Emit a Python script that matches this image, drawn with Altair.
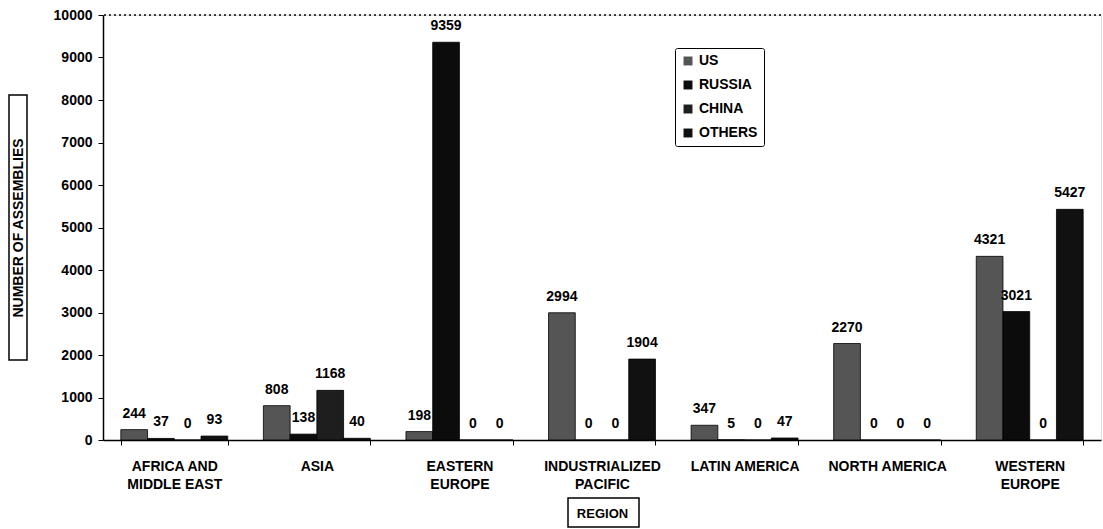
import altair as alt
import pandas as pd

# Regions ("|" marks a line break in the axis label)
regions = [
    "AFRICA AND|MIDDLE EAST",
    "ASIA",
    "EASTERN|EUROPE",
    "INDUSTRIALIZED|PACIFIC",
    "LATIN AMERICA",
    "NORTH AMERICA",
    "WESTERN|EUROPE",
]
series = ["US", "RUSSIA", "CHINA", "OTHERS"]

us = [244, 808, 198, 2994, 347, 2270, 4321]
russia = [37, 138, 9359, 0, 5, 0, 3021]
china = [0, 1168, 0, 0, 0, 0, 0]
others = [93, 40, 0, 1904, 47, 0, 5427]

y_ticks = list(range(0, 10001, 1000))
colors = ["#555555", "#0c0c0c", "#1e1e1e", "#111111"]

FONT = "Liberation Sans Narrow, Liberation Sans, Arial"

rows = []
for name, vals in zip(series, [us, russia, china, others]):
    for reg, v in zip(regions, vals):
        rows.append({"region": reg, "series": name, "value": v})
df = pd.DataFrame(rows)

W, H = 998, 425

x_enc = alt.X(
    "region:N",
    sort=regions,
    scale=alt.Scale(paddingInner=0.25, paddingOuter=0.125),
    axis=alt.Axis(
        title="REGION",
        titleFont=FONT,
        titleFontSize=13,
        titleFontWeight="bold",
        titleX=W / 2,
        titleY=73,
        titleBaseline="middle",
        labelExpr="split(datum.label, '|')",
        labelAngle=0,
        labelFont=FONT,
        labelFontSize=14,
        labelFontWeight="bold",
        labelColor="black",
        labelPadding=14,
        labelLineHeight=18,
        tickBand="extent",
        tickSize=5,
        tickColor="black",
        domainColor="black",
        domainWidth=1.5,
    ),
)
xoff = alt.XOffset("series:N", sort=series)

y_enc = alt.Y(
    "value:Q",
    scale=alt.Scale(domain=[0, 10000], nice=False),
    axis=alt.Axis(
        values=y_ticks,
        format="d",
        title="NUMBER OF ASSEMBLIES",
        titleFont=FONT,
        titleFontSize=14,
        titleFontWeight="bold",
        titleX=-85,
        titleY=H / 2,
        titleAngle=270,
        titleAlign="center",
        titleBaseline="middle",
        labelFont=FONT,
        labelFontSize=14,
        labelFontWeight="bold",
        labelColor="black",
        labelPadding=6,
        tickSize=5,
        tickColor="black",
        domainColor="black",
        domainWidth=1.5,
        grid=False,
    ),
)

base = alt.Chart(df)

bars = base.mark_bar(stroke="black", strokeWidth=0.8).encode(
    x=x_enc,
    xOffset=xoff,
    y=y_enc,
    color=alt.Color(
        "series:N",
        sort=series,
        scale=alt.Scale(domain=series, range=colors),
        legend=alt.Legend(
            title=None,
            orient="none",
            legendX=572,
            legendY=33,
            direction="vertical",
            symbolType="square",
            symbolSize=80,
            symbolStrokeWidth=0,
            labelFont=FONT,
            labelFontSize=14,
            labelFontWeight="bold",
            labelColor="black",
            rowPadding=10,
            padding=6,
            strokeColor="black",
            cornerRadius=2,
            fillColor="white",
        ),
    ),
)

labels = base.mark_text(
    dy=-9, baseline="bottom", font=FONT, fontSize=14, fontWeight="bold", color="black"
).encode(
    x=alt.X("region:N", sort=regions),
    xOffset=xoff,
    y="value:Q",
    text="value:Q",
)

one = pd.DataFrame({"k": [0]})

top_line = alt.Chart(one).mark_rule(
    color="black", strokeDash=[2, 3], strokeWidth=1.5
).encode(y=alt.datum(10000))

y_box = alt.Chart(one).mark_rect(filled=False, stroke="black", strokeWidth=1.5).encode(
    x=alt.value(-94), x2=alt.value(-76), y=alt.value(80), y2=alt.value(345)
)
x_box = alt.Chart(one).mark_rect(filled=False, stroke="black", strokeWidth=1.5).encode(
    x=alt.value(465), x2=alt.value(536), y=alt.value(483), y2=alt.value(512)
)

chart = (
    alt.layer(bars, labels, top_line, y_box, x_box)
    .properties(
        width=W,
        height=H,
        autosize=alt.AutoSizeParams(type="none"),
        padding={"left": 103, "top": 15, "right": 2, "bottom": 89},
    )
    .configure_view(stroke=None)
    .configure(background="white")
)

chart.save("out.html", embed_options={"renderer": "svg", "actions": False})
